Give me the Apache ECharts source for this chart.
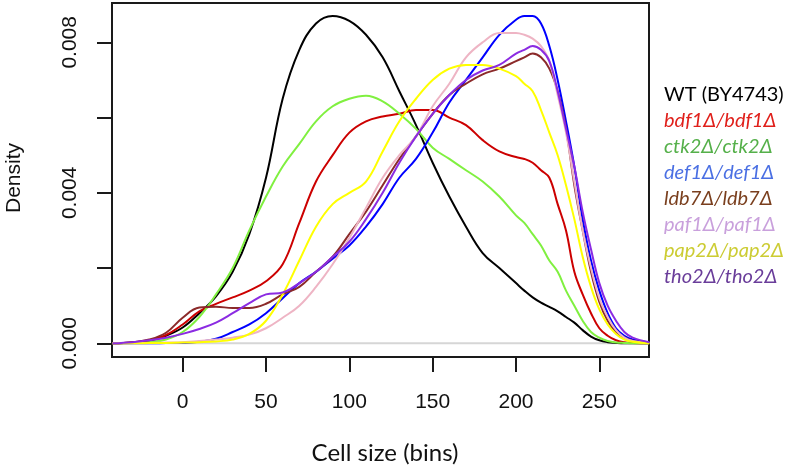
<!DOCTYPE html>
<html>
<head>
<meta charset="utf-8">
<script src="https://cdn.jsdelivr.net/npm/echarts@6/dist/echarts.min.js"></script>
<style>html,body{margin:0;padding:0;background:#fff}#c{width:789px;height:467px}</style>
</head>
<body>
<div id="c"></div>
<script>
// Cell size (bins) sample positions
var cellSize = [-42,-30,-20,-10,0,10,20,30,40,50,60,70,80,90,100,110,120,130,140,150,160,170,180,190,200,205,210,215,220,225,230,235,240,245,250,255,260,265,270,280];

var wt   = [0,0.00002,0.00007,0.0002,0.00042,0.0008,0.00125,0.0019,0.0029,0.0044,0.0065,0.0078,0.0085,0.0087,0.00857,0.0082,0.0076,0.0067,0.0058,0.0048,0.0039,0.0031,0.0024,0.0020,0.0016,0.0014,0.00122,0.00108,0.00097,0.00085,0.0007,0.00055,0.00035,0.00018,0.00008,0.00003,0.00001,0,0,0];
var bdf1 = [0,0.00002,0.00008,0.00022,0.0005,0.00085,0.00105,0.00122,0.0014,0.00165,0.0021,0.0032,0.0043,0.0050,0.0056,0.0059,0.00603,0.0061,0.0062,0.0062,0.0060,0.0058,0.0054,0.0051,0.00495,0.0049,0.0048,0.0046,0.0044,0.0037,0.0030,0.0019,0.0013,0.0008,0.0004,0.0002,0.00008,0.00003,0.00001,0];
var ctk2 = [0,0.00001,0.00003,0.0001,0.0003,0.0007,0.0013,0.0020,0.0030,0.0039,0.0047,0.0053,0.0059,0.0063,0.0065,0.00658,0.00643,0.0061,0.0057,0.0052,0.0049,0.0046,0.0043,0.0039,0.0034,0.0032,0.0029,0.0026,0.0022,0.0019,0.0014,0.0010,0.0006,0.0003,0.00015,0.00006,0.00002,0.00001,0,0];
var def1 = [0,0,0,0.000005,0.00001,0.00004,0.00012,0.0003,0.0005,0.0008,0.0012,0.0016,0.0019,0.00225,0.0026,0.0031,0.0037,0.0044,0.0049,0.0056,0.0064,0.0070,0.0076,0.0082,0.0086,0.0087,0.0087,0.0085,0.0079,0.0070,0.0059,0.0047,0.0033,0.0022,0.0014,0.0008,0.0004,0.0002,0.0001,0.00002];
var ldb7 = [0,0.00003,0.0001,0.00028,0.00068,0.00095,0.00097,0.00094,0.00094,0.00105,0.0013,0.0015,0.0019,0.0023,0.0029,0.0035,0.0042,0.0049,0.0055,0.0061,0.0066,0.0069,0.00715,0.0073,0.0075,0.0076,0.0077,0.0076,0.0073,0.0067,0.0057,0.0042,0.0030,0.0019,0.0011,0.0006,0.0003,0.00015,0.00007,0.00001];
var paf1 = [0,0.000005,0.00001,0.00002,0.00003,0.00006,0.0001,0.00015,0.00023,0.0004,0.00068,0.001,0.0015,0.0021,0.0028,0.0036,0.0044,0.0050,0.0055,0.0063,0.0069,0.0076,0.0080,0.00825,0.00825,0.0082,0.0081,0.0079,0.0075,0.0066,0.0056,0.0043,0.0030,0.0020,0.0012,0.0007,0.00035,0.00015,0.00006,0.00001];
var pap2 = [0,0,0.000005,0.00001,0.00002,0.00003,0.00005,0.0001,0.00025,0.0006,0.0013,0.0022,0.0031,0.0037,0.0040,0.0043,0.0051,0.0059,0.0065,0.0070,0.0073,0.0074,0.0074,0.0073,0.0071,0.0069,0.0067,0.0062,0.0056,0.0050,0.0042,0.0033,0.0023,0.0015,0.0009,0.0005,0.00025,0.0001,0.00004,0];
var tho2 = [0,0.00003,0.00008,0.00015,0.00025,0.00038,0.00055,0.0008,0.00107,0.0013,0.00135,0.0016,0.0019,0.0023,0.0027,0.0033,0.0040,0.0048,0.0055,0.0061,0.0066,0.0070,0.00725,0.0074,0.0077,0.0078,0.0079,0.0078,0.0075,0.0067,0.0057,0.0047,0.0035,0.0025,0.0016,0.0010,0.0006,0.0003,0.00015,0.00003];

var zeroLine = [[-42.4,0],[279.8,0]];
var xTicks = [0,50,100,150,200,250];
var yTicks = [0,0.002,0.004,0.006,0.008];
var yLabels = [0,0.004,0.008];

var seriesNames = ['WT (BY4743)','bdf1Δ/bdf1Δ','ctk2Δ/ctk2Δ','def1Δ/def1Δ','ldb7Δ/ldb7Δ','paf1Δ/paf1Δ','pap2Δ/pap2Δ','tho2Δ/tho2Δ'];
var seriesValues = [wt,bdf1,ctk2,def1,ldb7,paf1,pap2,tho2];
var lineColors = ['#000000','#cc0000','#80f040','#0000ff','#8b2a2a','#eeb4c4','#ffff00','#8b2be2'];
var textColors = ['#000000','#e0201b','#55b04a','#4a6fe3','#7a3f1e','#c9a0dc','#cccc33','#6a3d9a'];

function pairs(vals){ return cellSize.map(function(x,i){ return [x, vals[i]]; }); }

var series = [{
  type:'line', data: zeroLine, showSymbol:false, silent:true,
  lineStyle:{color:'#d6d6d6', width:2}, z:1
}];
seriesValues.forEach(function(v,i){
  series.push({
    name: seriesNames[i], type:'line', data: pairs(v), smooth:0.4,
    showSymbol:false, lineStyle:{color:lineColors[i], width:2}, itemStyle:{color:lineColors[i]}, z:2
  });
});

var legendTexts = seriesNames.map(function(n,i){
  return {
    type:'text', left:664, top: 85 + i*25.9,
    style:{ text:n, fill:textColors[i], font: (i===0?'':'italic ') + '20px Lato, "Noto Sans", sans-serif' }
  };
});

var chart = echarts.init(document.getElementById('c'), null, {renderer:'canvas'});
chart.setOption({
  animation:false,
  backgroundColor:'#fff',
  grid:{left:112, top:3, right:140, bottom:110, show:true, borderColor:'#1a1a1a', borderWidth:2, backgroundColor:'transparent'},
  xAxis:{
    type:'value', min:-42.4, max:279.8,
    axisLine:{show:false, onZero:false},
    splitLine:{show:false},
    axisTick:{show:true, inside:false, length:15, customValues:xTicks, lineStyle:{color:'#1a1a1a', width:2}},
    axisLabel:{customValues:xTicks, margin:35, fontSize:21, color:'#111', fontFamily:'"Liberation Sans", Arial, sans-serif'}
  },
  yAxis:{
    type:'value', min:-0.000364, max:0.009045,
    axisLine:{show:false, onZero:false},
    splitLine:{show:false},
    axisTick:{show:true, inside:false, length:15, customValues:yTicks, lineStyle:{color:'#1a1a1a', width:2}},
    axisLabel:{customValues:yLabels, rotate:90, margin:31, fontSize:21, color:'#111', fontFamily:'"Liberation Sans", Arial, sans-serif',
      formatter:function(v){ return v.toFixed(3); }}
  },
  graphic: [
    {type:'text', x:14, y:178, rotation:Math.PI/2,
      style:{text:'Density', fill:'#111', font:'21px "Liberation Sans", Arial, sans-serif', textAlign:'center', textVerticalAlign:'middle'}},
    {type:'text', x:385, y:453,
      style:{text:'Cell size (bins)', fill:'#111', font:'24px Lato, "Noto Sans", sans-serif', textAlign:'center', textVerticalAlign:'middle'}}
  ].concat(legendTexts),
  series: series
});
</script>
</body>
</html>
